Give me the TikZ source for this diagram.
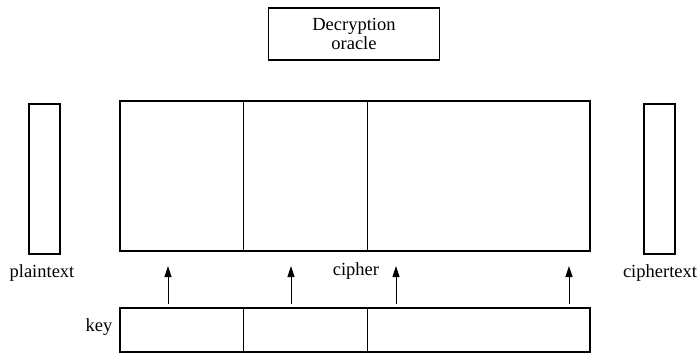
\documentclass[tikz,border=0pt]{standalone}
\usepackage{fontspec}
\setmainfont{Liberation Serif}
\newfontfamily\labelfont{Liberation Serif}
\usetikzlibrary{arrows.meta}
\begin{document}
\begin{tikzpicture}[x=1pt,y=-1pt,
  thickbox/.style={draw,line width=1.8pt},
  thinline/.style={draw,line width=0.9pt},
  lbl/.style={font=\labelfont\fontsize{18.5}{20}\selectfont,inner sep=0pt},
  up/.style={-{Triangle[length=11pt,width=7pt]},line width=1pt}]
\useasboundingbox (0,0) rectangle (697,353);
% oracle box
\node[thickbox,minimum width=171,minimum height=52,inner sep=0pt,
  align=center,font=\labelfont\fontsize{18.5}{19.5}\selectfont] (oracle) at (354,34)
  {Decryption\\oracle};
% side buffers
\draw[thickbox] (29,104) rectangle (60,254);
\draw[thickbox] (644,104) rectangle (675,254);
% cipher state
\draw[thickbox] (120,101) rectangle (590,251);
\draw[thinline] (243,101) -- (243,251);
\draw[thinline] (367,101) -- (367,251);
% key register
\draw[thickbox] (120,308) rectangle (590,352);
\draw[thinline] (243,308) -- (243,352);
\draw[thinline] (367,308) -- (367,352);
% labels
\node[lbl] (plab) at (42,273) {plaintext};
\node[lbl] (clab) at (660,273) {ciphertext};
\node[lbl] (cilab) at (356,271) {cipher};
\node[lbl] (klab) at (99,327) {key};
% key feeds
\foreach \x/\n in {168/a,291/b,396/c,569/d}{
  \coordinate (k\n) at (\x,304);
  \coordinate (c\n) at (\x,266);
  \draw[up] (k\n) -- (c\n);
}
\end{tikzpicture}
\end{document}
